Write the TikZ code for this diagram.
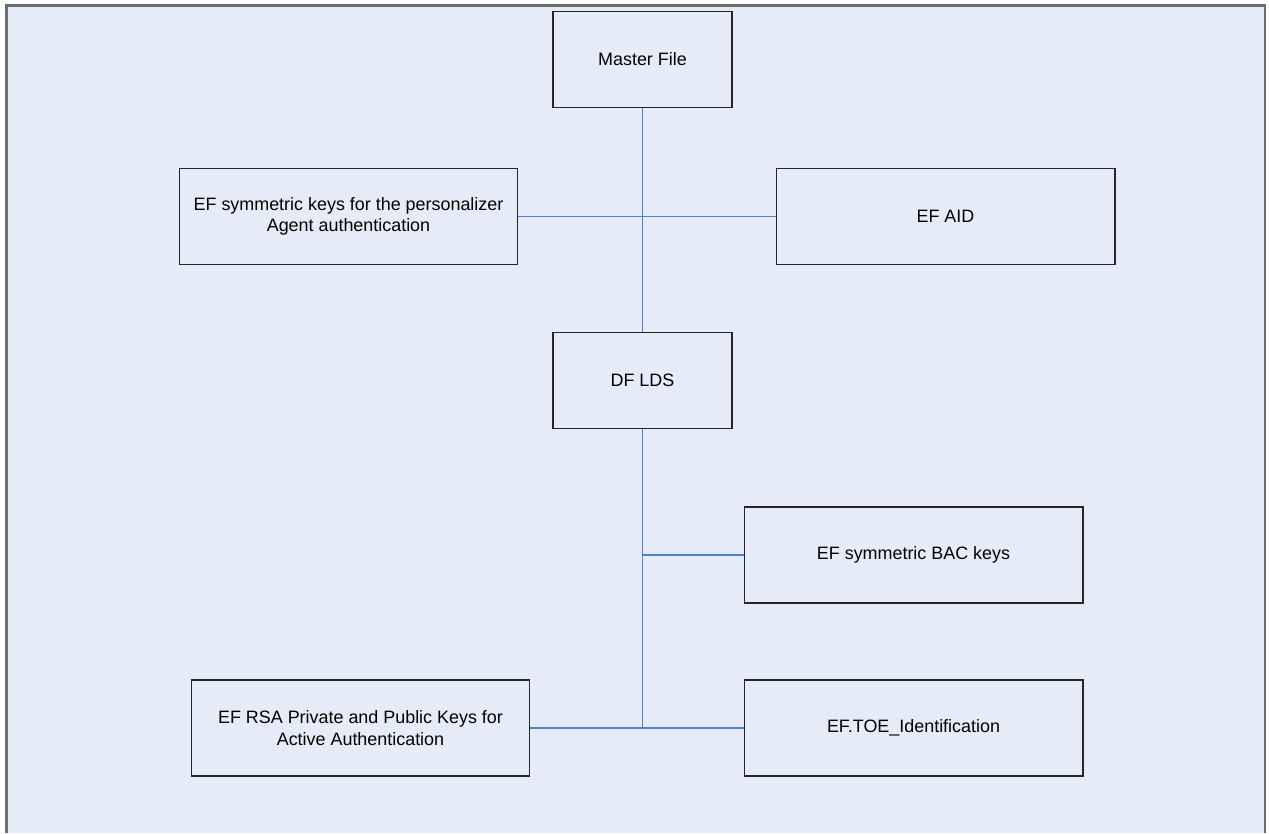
\documentclass[tikz,border=0pt]{standalone}
\usepackage{fontspec}
\setmainfont{Liberation Sans}
\usepackage{tikz}

\definecolor{pagebg}{HTML}{E6ECF7}
\definecolor{linkblue}{HTML}{4F81C7}
\definecolor{frame}{HTML}{6E6E6E}

\begin{document}
\begin{tikzpicture}[x=0.02cm, y=-0.02cm,
    filebox/.style={draw=black!85, line width=0.6pt, minimum width=6.78cm, minimum height=1.92cm, align=center, font=\fontsize{10.2}{12.2}\selectfont, inner sep=0pt},
    smallbox/.style={filebox, minimum width=3.58cm},
    link/.style={draw=linkblue, line width=0.6pt}]
      \useasboundingbox (0,0) rectangle (1269,833);
      % Page:
      \fill[pagebg] (6.5,5.5) rectangle (1265,833);
      \draw[frame, line width=1.2pt] (6.5,833) -- (6.5,5.5) -- (1265,5.5) -- (1265,833);
      % Files:
      \node[smallbox] (mf) at (642.5,59.5) {Master File};
      \node[filebox] (pers) at (348.5,216.5) {EF symmetric keys for the personalizer\\Agent authentication};
      \node[filebox] (aid) at (945.5,216.5) {EF AID};
      \node[smallbox] (lds) at (642.5,380.5) {DF LDS};
      \node[filebox] (bac) at (913.5,555) {EF symmetric BAC keys};
      \node[filebox] (toe) at (913.5,728) {EF.TOE\_Identification};
      \node[filebox] (rsa) at (360.5,728) {EF RSA Private and Public Keys for\\Active Authentication};
      % Links:
      \draw[link] (mf.south) -- (lds.north);
      \draw[link] (pers.east) -- (aid.west);
      \draw[link] (lds.south) |- (bac.west);
      \draw[link] (lds.south) -- (lds.south |- toe.west);
      \draw[link] (rsa.east) -- (toe.west);
    \end{tikzpicture}
\end{document}
